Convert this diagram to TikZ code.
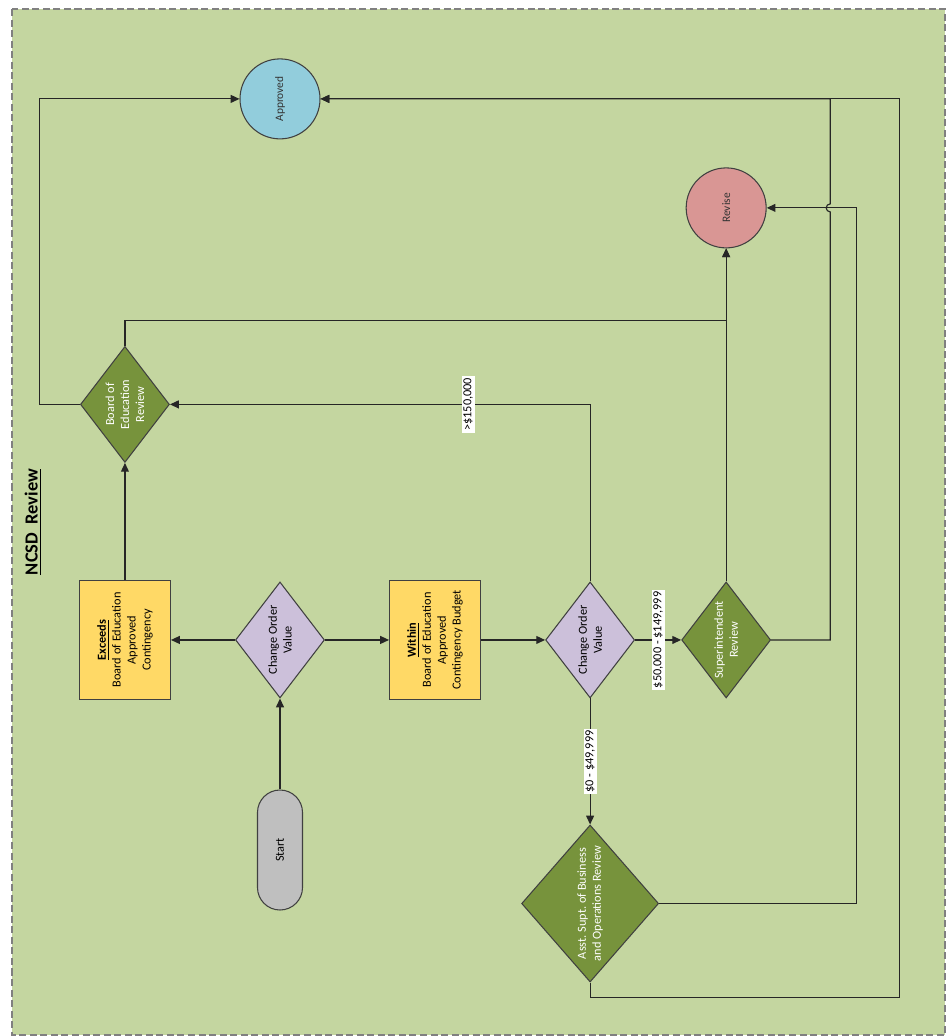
\documentclass[tikz,border=0pt]{standalone}
\usepackage{fontspec}
\setmainfont{Carlito}
\usetikzlibrary{calc,positioning,arrows.meta,shapes.geometric}
\definecolor{bggreen}{HTML}{C4D6A0}
\definecolor{decpurple}{HTML}{CCC0DA}
\definecolor{boxyellow}{HTML}{FFD966}
\definecolor{revgreen}{HTML}{77933C}
\definecolor{apprblue}{HTML}{92CDDC}
\definecolor{revpink}{HTML}{D99694}
\definecolor{startgray}{HTML}{BFBFBF}

\begin{document}
\begin{tikzpicture}[
  node distance=1.28cm,
  base/.style={draw=black!75, line width=0.6pt, inner sep=0pt},
  txt/.style={rotate=90, align=center, font=\fontsize{7}{8.5}\selectfont},
  wtxt/.style={txt, text=white},
  ctxt/.style={txt, font=\fontsize{6.5}{8}\selectfont, text=black!80},
  term/.style={base, rectangle, rounded corners=0.45cm, fill=startgray,
               minimum width=0.9cm, minimum height=2.4cm},
  endc/.style={base, circle, minimum size=1.6cm},
  procbox/.style={base, rectangle, fill=boxyellow,
                  minimum width=1.82cm, minimum height=2.38cm},
  decn/.style={base, diamond, fill=decpurple,
               minimum width=1.78cm, minimum height=2.32cm},
  revd/.style={decn, fill=revgreen},
  arr/.style={draw=black!85, line width=0.65pt, -{Triangle[length=5pt,width=4.5pt]}},
  elbl/.style={rotate=90, fill=white, inner sep=1pt, font=\fontsize{7}{8}\selectfont},
]
 \useasboundingbox (0,0) rectangle (19,-20.72);
 % Frame
 \draw[draw=black!50, line width=0.8pt, dash pattern=on 4pt off 2pt, fill=bggreen]
   (0.24,-0.18) rectangle (18.9,-20.7);
 \node[font=\fontsize{10.5}{12}\selectfont\bfseries, rotate=90] (ttl) at (0.66,-10.44)
   {\underline{NCSD\ \ Review}};

 % Main row
 \node[term, label={[txt]center:Start}] (start) at (5.6,-17.0) {};
 \node[decn, above=1.82cm of start, label={[txt]center:{Change Order\\Value}}] (co1) {};
 \node[procbox, left=of co1,
       label={[txt]center:{\underline{\textbf{Exceeds}}\\Board of Education\\Approved\\Contingency}}] (exc) {};
 \node[procbox, right=of co1,
       label={[txt]center:{\underline{\textbf{Within}}\\Board of Education\\Approved\\Contingency Budget}}] (win) {};
 \node[decn, right=of win, label={[txt]center:{Change Order\\Value}}] (co2) {};
 \node[revd, right=0.92cm of co2, label={[wtxt]center:{Superintendent\\Review}}] (sup) {};
 \node[revd, below=2.52cm of co2, minimum width=2.74cm, minimum height=3.14cm,
       label={[wtxt]center:{Asst.\ Supt.\ of Business\\and Operations Review}}] (asst) {};
 \node[revd, above=2.34cm of exc, label={[wtxt]center:{Board of\\Education\\Review}}] (boe) {};

 % End points
 \node[endc, fill=revpink, above=6.66cm of sup, label={[ctxt]center:Revise}] (rev) {};
 \node[endc, fill=apprblue, above=8.84cm of co1, label={[ctxt]center:Approved}] (appr) {};

 \draw[arr] (start) -- (co1);
 \draw[arr] (co1) -- (exc);
 \draw[arr] (co1) -- (win);
 \draw[arr] (win) -- (co2);
 \draw[arr] (co2) -- node[elbl]{\$50,000 - \$149,999} (sup);
 \draw[arr] (co2) -- node[elbl]{\$0 - \$49,999} (asst);
 \draw[arr] (co2.north) |- node[elbl, pos=0.645]{>\$150,000} (boe.east);
 \draw[arr] (exc) -- (boe);
 \draw[arr] (boe.west) -- ++(-0.8,0) |- (appr.west);
 \draw[arr] (boe.north) -- ++(0,0.5) -| (rev.south);
 \draw[arr] (sup) -- (rev);
 \draw[arr] (sup.east) -- ++(1.18,0) coordinate (supx)
   -- ($(supx |- rev.east)+(0,-0.08)$) arc[start angle=270, end angle=90, radius=0.08]
   -- (supx |- appr.east) -- (appr.east);
 \draw[arr] (asst.east) -- ++(3.94,0) |- (rev.east);
 \draw[arr] (asst.south) -- ++(0,-0.3) -- ++(6.18,0) |- (appr.east);
\end{tikzpicture}
\end{document}
